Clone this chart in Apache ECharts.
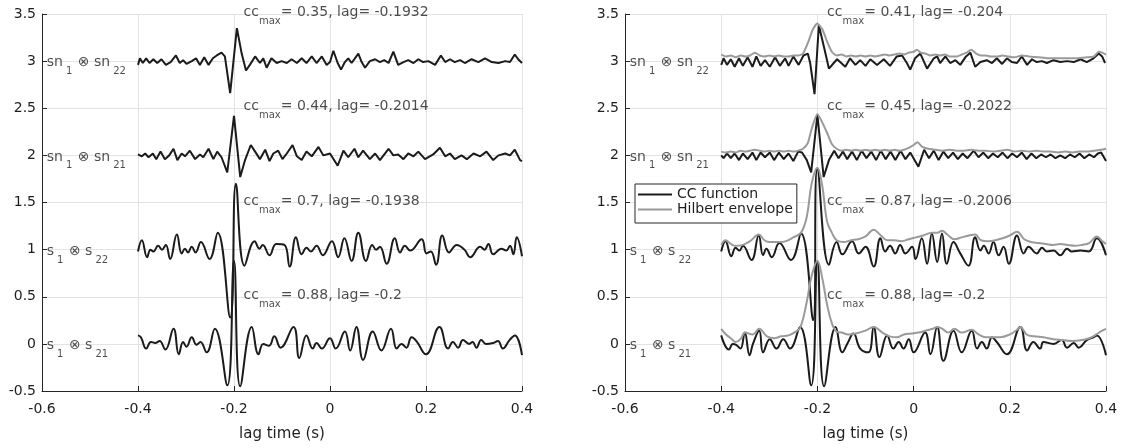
<!DOCTYPE html>
<html>
<head>
<meta charset="utf-8">
<script src="https://cdn.jsdelivr.net/npm/echarts@6/dist/echarts.min.js"></script>
<style>
html,body{margin:0;padding:0;background:#fff;}
#chart{width:1123px;height:448px;}
</style>
</head>
<body>
<div id="chart"></div>
<script>
// ---------------- DATA ----------------
// vertical offsets of the four traces (bottom to top)
const offsets = [0, 1, 2, 3];
const pairA = ['s', 's', 'sn', 'sn'];
const pairSubA = ['1', '1', '1', '1'];
const pairSubB = ['21', '22', '21', '22'];
const ccLeft = ['0.88', '0.7', '0.44', '0.35'];
const lagLeft = ['-0.2', '-0.1938', '-0.2014', '-0.1932'];
const ccRight = ['0.88', '0.87', '0.45', '0.41'];
const lagRight = ['-0.2', '-0.2006', '-0.2022', '-0.204'];
const xTicks = { min: -0.6, max: 0.4, step: 0.2 };
const yTicks = { min: -0.5, max: 3.5, step: 0.5 };
const pairLabelX = -0.59;
const ccLabelX = -0.18;

// Left panel: CC functions, [lag, value relative to offset]
const L_s21 = [[-0.400,0.09],[-0.394,0.07],[-0.383,-0.05],[-0.373,0.02],[-0.364,0.01],[-0.355,0.03],[-0.343,-0.06],[-0.326,0.16],[-0.315,-0.11],[-0.306,0.02],[-0.299,-0.03],[-0.288,0.07],[-0.278,-0.01],[-0.270,0.02],[-0.257,-0.09],[-0.240,0.16],[-0.214,-0.44],[-0.200,0.88],[-0.187,-0.45],[-0.163,0.18],[-0.149,-0.11],[-0.139,0.00],[-0.127,-0.02],[-0.116,0.08],[-0.103,-0.04],[-0.076,0.18],[-0.064,-0.15],[-0.049,0.09],[-0.036,-0.05],[-0.028,0.01],[-0.017,-0.05],[0.000,0.06],[0.012,-0.05],[0.031,0.13],[0.042,-0.07],[0.055,0.18],[0.069,-0.17],[0.089,0.13],[0.107,-0.07],[0.127,0.16],[0.139,-0.05],[0.149,0.00],[0.159,-0.04],[0.170,0.07],[0.180,0.03],[0.200,-0.11],[0.228,0.18],[0.246,-0.05],[0.256,0.02],[0.267,-0.04],[0.277,0.04],[0.290,0.00],[0.297,0.02],[0.305,-0.04],[0.315,0.04],[0.325,0.00],[0.340,0.01],[0.350,0.03],[0.360,-0.05],[0.374,0.04],[0.385,0.09],[0.400,-0.12]];
const L_s22 = [[-0.400,-0.02],[-0.392,0.10],[-0.381,-0.08],[-0.374,0.00],[-0.368,-0.02],[-0.358,0.04],[-0.350,0.00],[-0.342,0.05],[-0.333,-0.10],[-0.319,0.16],[-0.309,-0.04],[-0.302,0.01],[-0.296,-0.03],[-0.288,0.03],[-0.280,-0.03],[-0.269,0.08],[-0.251,-0.10],[-0.234,0.18],[-0.208,-0.72],[-0.196,0.70],[-0.178,-0.17],[-0.157,0.09],[-0.147,0.01],[-0.140,0.05],[-0.126,-0.06],[-0.112,0.06],[-0.095,0.05],[-0.084,-0.18],[-0.071,0.13],[-0.059,-0.05],[-0.049,0.02],[-0.040,-0.02],[-0.028,0.04],[-0.015,-0.06],[0.004,0.09],[0.017,-0.08],[0.030,0.12],[0.045,-0.12],[0.059,0.18],[0.075,-0.12],[0.088,0.05],[0.096,0.00],[0.104,0.03],[0.118,-0.15],[0.135,0.12],[0.146,-0.03],[0.156,0.04],[0.167,-0.01],[0.191,0.11],[0.201,-0.04],[0.210,-0.02],[0.221,-0.16],[0.234,0.15],[0.248,-0.03],[0.264,0.05],[0.280,0.00],[0.292,-0.08],[0.313,0.03],[0.322,0.00],[0.330,0.06],[0.340,-0.05],[0.357,0.01],[0.367,-0.01],[0.375,0.04],[0.382,-0.05],[0.389,0.13],[0.400,-0.07]];
const L_sn21 = [[-0.400,0.01],[-0.392,-0.01],[-0.385,0.02],[-0.378,-0.02],[-0.369,0.02],[-0.362,-0.04],[-0.353,0.04],[-0.344,-0.04],[-0.335,0.00],[-0.326,0.07],[-0.318,-0.05],[-0.309,0.02],[-0.302,-0.01],[-0.292,0.05],[-0.281,-0.04],[-0.271,0.01],[-0.264,-0.02],[-0.253,0.07],[-0.243,-0.04],[-0.235,0.04],[-0.226,-0.02],[-0.214,-0.18],[-0.200,0.42],[-0.187,-0.23],[-0.177,-0.05],[-0.165,0.11],[-0.156,0.04],[-0.146,-0.04],[-0.135,0.06],[-0.126,-0.06],[-0.118,0.02],[-0.108,0.05],[-0.099,-0.04],[-0.090,0.02],[-0.078,0.11],[-0.069,-0.01],[-0.059,-0.05],[-0.049,0.04],[-0.038,-0.01],[-0.024,0.09],[-0.014,0.00],[0.000,0.02],[0.016,-0.11],[0.028,0.05],[0.038,-0.02],[0.051,0.07],[0.059,-0.02],[0.069,0.05],[0.083,-0.04],[0.094,0.02],[0.104,-0.05],[0.122,0.07],[0.132,0.00],[0.142,0.01],[0.153,-0.04],[0.163,0.02],[0.174,-0.01],[0.184,0.04],[0.198,-0.04],[0.215,0.01],[0.229,0.08],[0.240,-0.01],[0.250,0.02],[0.260,-0.04],[0.274,0.00],[0.285,-0.04],[0.299,0.02],[0.313,-0.01],[0.326,0.04],[0.340,-0.05],[0.351,0.00],[0.365,0.02],[0.375,0.00],[0.385,0.06],[0.396,-0.05],[0.400,-0.06]];
const L_sn22 = [[-0.400,-0.04],[-0.396,0.03],[-0.390,-0.02],[-0.383,0.03],[-0.376,-0.02],[-0.368,0.02],[-0.360,-0.02],[-0.351,0.02],[-0.342,-0.04],[-0.332,-0.01],[-0.321,0.06],[-0.313,-0.02],[-0.306,0.01],[-0.299,-0.03],[-0.288,0.00],[-0.279,0.03],[-0.271,-0.04],[-0.262,0.04],[-0.253,-0.04],[-0.244,0.03],[-0.236,0.06],[-0.226,0.09],[-0.219,0.05],[-0.208,-0.34],[-0.194,0.35],[-0.184,0.08],[-0.175,-0.10],[-0.167,-0.04],[-0.156,0.05],[-0.146,-0.02],[-0.139,0.03],[-0.132,-0.07],[-0.122,0.03],[-0.111,-0.02],[-0.101,0.00],[-0.090,-0.02],[-0.080,0.02],[-0.069,-0.02],[-0.059,0.03],[-0.049,-0.02],[-0.038,0.05],[-0.028,-0.02],[-0.017,0.05],[-0.007,-0.04],[0.000,-0.01],[0.007,0.11],[0.016,-0.02],[0.023,-0.09],[0.031,-0.01],[0.038,0.03],[0.045,-0.02],[0.059,0.08],[0.066,-0.01],[0.073,-0.07],[0.083,0.00],[0.094,0.02],[0.104,-0.01],[0.113,0.01],[0.122,-0.02],[0.132,0.10],[0.142,-0.04],[0.153,-0.01],[0.163,0.01],[0.174,-0.02],[0.184,0.02],[0.194,-0.01],[0.205,0.00],[0.219,-0.04],[0.231,0.06],[0.240,-0.01],[0.250,0.02],[0.260,-0.01],[0.271,0.01],[0.281,-0.02],[0.295,0.02],[0.309,-0.01],[0.323,0.03],[0.337,-0.01],[0.351,-0.02],[0.365,0.00],[0.375,-0.01],[0.385,0.07],[0.392,0.02],[0.400,-0.02]];

// Right panel: CC functions
const R_s21 = [[-0.400,0.09],[-0.384,-0.06],[-0.376,0.00],[-0.369,-0.01],[-0.360,-0.05],[-0.351,0.12],[-0.341,-0.12],[-0.334,0.00],[-0.321,0.14],[-0.313,-0.09],[-0.299,0.05],[-0.285,-0.05],[-0.271,0.05],[-0.257,-0.05],[-0.236,0.18],[-0.213,-0.44],[-0.200,0.88],[-0.186,-0.45],[-0.162,0.18],[-0.148,-0.09],[-0.137,0.01],[-0.125,0.11],[-0.111,-0.05],[-0.094,-0.09],[-0.083,0.18],[-0.071,-0.14],[-0.055,0.09],[-0.042,-0.05],[-0.031,0.02],[-0.021,-0.05],[-0.010,0.05],[0.000,-0.09],[0.024,0.12],[0.035,-0.11],[0.049,0.18],[0.062,-0.18],[0.083,0.14],[0.100,-0.09],[0.121,0.14],[0.132,-0.05],[0.142,0.02],[0.152,-0.05],[0.163,0.07],[0.173,0.02],[0.194,-0.11],[0.222,0.18],[0.236,-0.07],[0.249,0.02],[0.263,-0.05],[0.270,0.02],[0.291,0.00],[0.308,0.04],[0.319,-0.04],[0.333,0.01],[0.343,-0.04],[0.360,0.04],[0.374,0.07],[0.381,0.09],[0.400,-0.12]];
const R_s22 = [[-0.400,-0.02],[-0.391,0.09],[-0.379,-0.07],[-0.370,0.02],[-0.362,-0.01],[-0.355,0.04],[-0.337,-0.11],[-0.322,0.15],[-0.313,-0.06],[-0.306,0.01],[-0.295,-0.08],[-0.279,0.07],[-0.255,-0.11],[-0.234,0.17],[-0.209,-0.75],[-0.200,0.86],[-0.176,-0.16],[-0.160,0.08],[-0.148,-0.05],[-0.128,0.09],[-0.114,-0.04],[-0.100,0.03],[-0.083,-0.18],[-0.069,0.12],[-0.059,-0.02],[-0.049,0.04],[-0.038,-0.04],[-0.028,0.05],[-0.017,-0.04],[-0.003,0.03],[0.004,-0.10],[0.017,0.12],[0.028,-0.15],[0.038,0.17],[0.049,-0.13],[0.059,0.17],[0.069,-0.15],[0.083,0.08],[0.097,-0.04],[0.114,-0.17],[0.128,0.13],[0.139,-0.01],[0.146,0.04],[0.156,-0.04],[0.166,0.08],[0.177,-0.06],[0.187,0.03],[0.198,-0.15],[0.215,0.15],[0.229,-0.04],[0.239,0.03],[0.256,-0.04],[0.267,0.02],[0.277,-0.02],[0.291,-0.01],[0.305,-0.06],[0.319,0.01],[0.329,-0.02],[0.347,-0.01],[0.364,-0.02],[0.381,0.12],[0.400,-0.06]];
const R_sn21 = [[-0.400,0.00],[-0.395,-0.03],[-0.388,0.02],[-0.380,-0.03],[-0.372,0.02],[-0.363,-0.05],[-0.355,0.02],[-0.345,-0.04],[-0.335,0.03],[-0.327,-0.05],[-0.318,0.03],[-0.309,-0.02],[-0.299,0.03],[-0.290,-0.05],[-0.280,0.03],[-0.270,-0.04],[-0.260,0.02],[-0.250,-0.06],[-0.240,0.04],[-0.232,0.03],[-0.222,-0.05],[-0.213,-0.18],[-0.200,0.43],[-0.187,-0.23],[-0.176,-0.05],[-0.165,0.05],[-0.156,-0.03],[-0.147,0.04],[-0.138,-0.04],[-0.128,0.04],[-0.118,-0.05],[-0.108,0.05],[-0.098,-0.03],[-0.088,0.04],[-0.078,-0.05],[-0.068,0.05],[-0.058,-0.04],[-0.048,0.04],[-0.038,-0.05],[-0.027,0.05],[-0.017,-0.04],[-0.007,0.03],[0.010,-0.12],[0.022,0.06],[0.032,-0.03],[0.042,0.05],[0.052,-0.05],[0.062,0.04],[0.072,-0.03],[0.082,0.03],[0.092,-0.04],[0.102,0.02],[0.112,-0.03],[0.125,0.05],[0.135,-0.02],[0.145,0.03],[0.155,-0.03],[0.165,0.02],[0.175,-0.02],[0.185,0.03],[0.195,-0.03],[0.205,0.02],[0.215,-0.02],[0.225,0.03],[0.235,-0.04],[0.245,0.02],[0.255,-0.03],[0.265,0.01],[0.275,-0.02],[0.285,0.01],[0.295,-0.03],[0.305,0.00],[0.315,-0.03],[0.325,0.01],[0.335,-0.02],[0.345,0.02],[0.355,-0.03],[0.365,0.01],[0.375,-0.02],[0.383,0.02],[0.390,0.03],[0.400,-0.06]];
const R_sn22 = [[-0.400,-0.04],[-0.395,0.03],[-0.388,-0.04],[-0.380,0.02],[-0.372,-0.06],[-0.363,0.03],[-0.355,-0.05],[-0.345,0.04],[-0.335,-0.06],[-0.327,0.05],[-0.318,-0.05],[-0.309,0.01],[-0.299,-0.06],[-0.288,0.04],[-0.278,-0.05],[-0.267,0.03],[-0.260,-0.05],[-0.250,0.05],[-0.239,-0.04],[-0.229,0.06],[-0.220,0.08],[-0.215,-0.02],[-0.206,-0.35],[-0.197,0.38],[-0.185,0.12],[-0.176,-0.08],[-0.166,-0.02],[-0.159,0.02],[-0.142,-0.06],[-0.132,0.03],[-0.121,-0.04],[-0.111,0.01],[-0.100,-0.05],[-0.090,0.02],[-0.076,-0.04],[-0.062,0.02],[-0.049,-0.05],[-0.035,0.05],[-0.024,0.06],[-0.014,-0.02],[-0.007,-0.09],[0.003,0.03],[0.014,0.08],[0.028,-0.08],[0.042,0.03],[0.049,0.05],[0.055,-0.02],[0.066,0.05],[0.076,-0.02],[0.087,0.01],[0.097,-0.04],[0.109,0.05],[0.118,0.09],[0.128,-0.06],[0.139,-0.01],[0.152,0.01],[0.163,-0.02],[0.173,0.03],[0.184,-0.03],[0.194,0.03],[0.204,-0.01],[0.215,-0.02],[0.225,0.05],[0.236,-0.04],[0.246,0.02],[0.256,-0.01],[0.267,0.00],[0.277,-0.02],[0.291,0.01],[0.305,-0.01],[0.319,0.00],[0.333,-0.01],[0.347,0.02],[0.360,-0.01],[0.374,0.03],[0.385,0.08],[0.392,0.05],[0.398,-0.02]];

// Right panel: Hilbert envelopes
const E_s21 = [[-0.400,0.16],[-0.390,0.10],[-0.380,0.06],[-0.370,0.02],[-0.360,0.05],[-0.350,0.12],[-0.335,0.10],[-0.321,0.16],[-0.305,0.08],[-0.290,0.06],[-0.275,0.08],[-0.260,0.09],[-0.245,0.13],[-0.235,0.18],[-0.222,0.45],[-0.212,0.72],[-0.200,0.88],[-0.190,0.70],[-0.180,0.42],[-0.170,0.22],[-0.160,0.13],[-0.150,0.12],[-0.135,0.10],[-0.120,0.11],[-0.100,0.14],[-0.083,0.18],[-0.065,0.12],[-0.050,0.08],[-0.035,0.07],[-0.020,0.10],[-0.005,0.11],[0.010,0.12],[0.025,0.14],[0.040,0.16],[0.049,0.18],[0.060,0.16],[0.072,0.12],[0.085,0.16],[0.100,0.12],[0.121,0.15],[0.135,0.10],[0.150,0.07],[0.165,0.07],[0.180,0.07],[0.200,0.10],[0.215,0.15],[0.222,0.18],[0.235,0.10],[0.250,0.08],[0.270,0.07],[0.290,0.05],[0.310,0.04],[0.330,0.03],[0.350,0.04],[0.365,0.06],[0.380,0.10],[0.392,0.14],[0.400,0.16]];
const E_s22 = [[-0.400,0.05],[-0.391,0.10],[-0.380,0.06],[-0.370,0.04],[-0.355,0.05],[-0.340,0.09],[-0.322,0.16],[-0.310,0.10],[-0.300,0.08],[-0.290,0.08],[-0.279,0.08],[-0.265,0.09],[-0.250,0.13],[-0.234,0.18],[-0.222,0.35],[-0.212,0.70],[-0.200,0.87],[-0.190,0.68],[-0.180,0.30],[-0.170,0.18],[-0.160,0.10],[-0.145,0.08],[-0.130,0.10],[-0.115,0.11],[-0.100,0.14],[-0.083,0.21],[-0.070,0.16],[-0.055,0.10],[-0.040,0.10],[-0.025,0.09],[-0.010,0.11],[0.005,0.13],[0.020,0.15],[0.038,0.18],[0.050,0.18],[0.059,0.20],[0.070,0.16],[0.085,0.11],[0.100,0.13],[0.115,0.15],[0.128,0.16],[0.140,0.10],[0.155,0.09],[0.170,0.10],[0.185,0.12],[0.200,0.15],[0.215,0.19],[0.230,0.11],[0.245,0.08],[0.260,0.07],[0.275,0.06],[0.290,0.05],[0.305,0.06],[0.320,0.05],[0.335,0.04],[0.350,0.05],[0.365,0.07],[0.381,0.14],[0.392,0.09],[0.400,0.06]];
const E_sn21 = [[-0.400,0.04],[-0.390,0.03],[-0.380,0.04],[-0.370,0.03],[-0.360,0.05],[-0.350,0.04],[-0.340,0.05],[-0.330,0.06],[-0.320,0.05],[-0.310,0.04],[-0.300,0.05],[-0.290,0.04],[-0.280,0.05],[-0.270,0.04],[-0.260,0.05],[-0.250,0.04],[-0.240,0.05],[-0.230,0.07],[-0.220,0.13],[-0.212,0.28],[-0.200,0.44],[-0.190,0.35],[-0.180,0.24],[-0.170,0.12],[-0.160,0.07],[-0.150,0.05],[-0.140,0.06],[-0.130,0.05],[-0.120,0.06],[-0.110,0.05],[-0.100,0.06],[-0.090,0.05],[-0.080,0.06],[-0.070,0.05],[-0.060,0.06],[-0.050,0.05],[-0.040,0.06],[-0.030,0.05],[-0.020,0.06],[-0.010,0.08],[0.000,0.11],[0.008,0.14],[0.018,0.09],[0.030,0.07],[0.045,0.06],[0.060,0.05],[0.075,0.06],[0.090,0.05],[0.105,0.05],[0.120,0.06],[0.135,0.05],[0.150,0.05],[0.165,0.04],[0.180,0.05],[0.195,0.06],[0.210,0.04],[0.225,0.05],[0.240,0.04],[0.255,0.05],[0.270,0.04],[0.285,0.04],[0.300,0.03],[0.315,0.04],[0.330,0.03],[0.345,0.04],[0.360,0.04],[0.375,0.05],[0.390,0.06],[0.400,0.07]];
const E_sn22 = [[-0.400,0.07],[-0.390,0.05],[-0.380,0.06],[-0.370,0.04],[-0.360,0.06],[-0.350,0.05],[-0.340,0.06],[-0.330,0.09],[-0.320,0.06],[-0.310,0.05],[-0.300,0.06],[-0.290,0.05],[-0.280,0.06],[-0.270,0.05],[-0.260,0.05],[-0.250,0.06],[-0.240,0.06],[-0.230,0.08],[-0.220,0.19],[-0.210,0.33],[-0.200,0.40],[-0.190,0.34],[-0.180,0.21],[-0.170,0.10],[-0.160,0.06],[-0.150,0.07],[-0.140,0.05],[-0.130,0.06],[-0.120,0.05],[-0.110,0.06],[-0.100,0.05],[-0.090,0.06],[-0.080,0.05],[-0.070,0.06],[-0.060,0.07],[-0.050,0.06],[-0.040,0.07],[-0.030,0.08],[-0.020,0.07],[-0.010,0.09],[0.000,0.10],[0.007,0.12],[0.015,0.09],[0.025,0.08],[0.035,0.06],[0.045,0.07],[0.055,0.06],[0.065,0.07],[0.075,0.05],[0.090,0.05],[0.100,0.07],[0.110,0.09],[0.120,0.12],[0.130,0.08],[0.140,0.06],[0.150,0.06],[0.160,0.05],[0.175,0.05],[0.185,0.06],[0.195,0.05],[0.210,0.04],[0.225,0.06],[0.240,0.05],[0.260,0.04],[0.280,0.03],[0.300,0.03],[0.320,0.03],[0.340,0.03],[0.360,0.04],[0.375,0.05],[0.385,0.10],[0.392,0.09],[0.400,0.07]];

// ---------------- CHART ----------------
const FONT = '"DejaVu Sans", "Liberation Sans", Arial, sans-serif';
const TXT = '#1e1e1e';
const AXIS = '#262626';
const BLACK = '#1b1b1b';
const GRAY = '#9a9a9a';

const leftCurves = [L_s21, L_s22, L_sn21, L_sn22];
const rightCurves = [R_s21, R_s22, R_sn21, R_sn22];
const rightEnv = [E_s21, E_s22, E_sn21, E_sn22];
const isNoisy = [false, false, true, true];

function shift(arr, off) { return arr.map(p => [p[0], p[1] + off]); }

function xAxisDef(gi) {
  return {
    type: 'value', gridIndex: gi, min: xTicks.min, max: xTicks.max, interval: xTicks.step,
    name: 'lag time (s)', nameLocation: 'middle', nameGap: 36,
    nameTextStyle: { fontFamily: FONT, fontSize: 15, color: TXT },
    axisLine: { show: true, onZero: false, lineStyle: { color: AXIS, width: 1 } },
    axisTick: { show: true, inside: true, length: 5, lineStyle: { color: AXIS } },
    axisLabel: { fontFamily: FONT, fontSize: 14, color: TXT, margin: 11, showMinLabel: true, showMaxLabel: true },
    splitLine: { show: true, lineStyle: { color: '#e3e3e3', width: 1 } }
  };
}
function yAxisDef(gi) {
  return {
    type: 'value', gridIndex: gi, min: yTicks.min, max: yTicks.max, interval: yTicks.step,
    axisLine: { show: true, onZero: false, lineStyle: { color: AXIS, width: 1 } },
    axisTick: { show: true, inside: true, length: 5, lineStyle: { color: AXIS } },
    axisLabel: { fontFamily: FONT, fontSize: 14, color: TXT, margin: 6, showMinLabel: true, showMaxLabel: true },
    splitLine: { show: true, lineStyle: { color: '#e3e3e3', width: 1 } }
  };
}

const rich = {
  n: { fontFamily: FONT, fontSize: 14, color: TXT, lineHeight: 14, verticalAlign: 'top' },
  s: { fontFamily: FONT, fontSize: 10, color: TXT, lineHeight: 21, verticalAlign: 'bottom', padding: [0, 1, 0, 3] },
  m: { fontFamily: FONT, fontSize: 10, color: TXT, lineHeight: 21, verticalAlign: 'bottom' }
};

function labelSeries(gi, ccArr, lagArr) {
  const data = [];
  for (let i = 0; i < 4; i++) {
    data.push({
      value: [pairLabelX, offsets[i]],
      label: { offset: [0, 5],
        formatter: '{n|' + pairA[i] + '}{s|' + pairSubA[i] + '}{n| \u2297 ' + pairA[i] + '}{s|' + pairSubB[i] + '}' }
    });
    data.push({
      value: [ccLabelX, offsets[i] + 0.5],
      label: { offset: [0, 2],
        formatter: '{n|cc}{m|max}{n|= ' + ccArr[i] + ', lag= ' + lagArr[i] + '}' }
    });
  }
  return {
    type: 'scatter', xAxisIndex: gi, yAxisIndex: gi, symbolSize: 0, silent: true, z: 10,
    data: data,
    label: { show: true, position: 'right', distance: 0, color: TXT, rich: rich }
  };
}

const series = [];
for (let i = 0; i < 4; i++) {
  series.push({
    name: 'left ' + i, type: 'line', xAxisIndex: 0, yAxisIndex: 0, symbol: 'none',
    smooth: isNoisy[i] ? false : 0.45,
    lineStyle: { color: BLACK, width: 2 }, itemStyle: { color: BLACK },
    data: shift(leftCurves[i], offsets[i])
  });
}
for (let i = 0; i < 4; i++) {
  series.push({
    name: 'CC function', type: 'line', xAxisIndex: 1, yAxisIndex: 1, symbol: 'none',
    smooth: isNoisy[i] ? false : 0.45,
    lineStyle: { color: BLACK, width: 2 }, itemStyle: { color: BLACK },
    data: shift(rightCurves[i], offsets[i])
  });
}
for (let i = 0; i < 4; i++) {
  series.push({
    name: 'Hilbert envelope', type: 'line', xAxisIndex: 1, yAxisIndex: 1, symbol: 'none',
    smooth: isNoisy[i] ? 0.2 : 0.4,
    lineStyle: { color: GRAY, width: 2 }, itemStyle: { color: GRAY },
    data: shift(rightEnv[i], offsets[i])
  });
}
series.push(labelSeries(0, ccLeft, lagLeft));
series.push(labelSeries(1, ccRight, lagRight));

const chart = echarts.init(document.getElementById('chart'), null, { renderer: 'canvas' });
chart.setOption({
  animation: false,
  backgroundColor: '#ffffff',
  grid: [
    { left: 42, top: 14, width: 480, height: 377 },
    { left: 625, top: 14, width: 481, height: 377 }
  ],
  xAxis: [xAxisDef(0), xAxisDef(1)],
  yAxis: [yAxisDef(0), yAxisDef(1)],
  legend: {
    data: ['CC function', 'Hilbert envelope'],
    orient: 'vertical', left: 635, top: 184,
    icon: 'rect', itemWidth: 34, itemHeight: 2, itemGap: 0,
    padding: [3, 4, 6, 3],
    backgroundColor: '#ffffff', borderColor: AXIS, borderWidth: 1, borderRadius: 0,
    textStyle: { fontFamily: FONT, fontSize: 14, color: TXT, lineHeight: 15 },
    selectedMode: false
  },
  series: series
});
</script>
</body>
</html>
